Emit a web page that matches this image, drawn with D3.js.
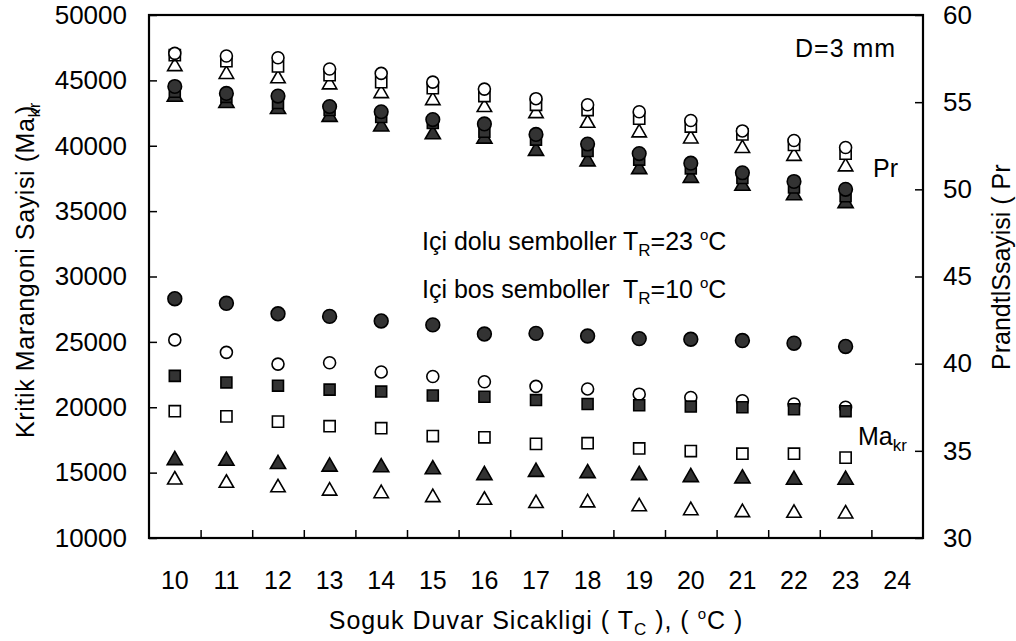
<!DOCTYPE html>
<html>
<head>
<meta charset="utf-8">
<script src="https://cdn.jsdelivr.net/npm/d3@7"></script>
<style>
  html, body { margin: 0; padding: 0; background: #fff; }
  svg { display: block; font-family: "Liberation Sans", Arial, sans-serif; }
  text { white-space: pre; }
</style>
</head>
<body>
<div id="chart"></div>
<script>
// x categories: cold wall temperature T_C
const temps = ['10','11','12','13','14','15','16','17','18','19','20','21','22','23','24'];
const dataTemps = temps.slice(0, 14); // no point at 24

// critical Marangoni number (left axis)
const maFilledCircle   = [28300, 27950, 27150, 26950, 26600, 26300, 25600, 25650, 25450, 25250, 25200, 25100, 24900, 24650];
const maOpenCircle     = [25150, 24200, 23300, 23400, 22700, 22350, 21950, 21600, 21400, 21000, 20750, 20500, 20250, 20000];
const maFilledSquare   = [22400, 21900, 21650, 21350, 21200, 20900, 20800, 20550, 20250, 20150, 20050, 20000, 19850, 19700];
const maOpenSquare     = [19700, 19300, 18900, 18550, 18400, 17800, 17700, 17200, 17250, 16850, 16650, 16450, 16450, 16150];
const maFilledTriangle = [15950, 15900, 15650, 15450, 15400, 15250, 14800, 15050, 14950, 14800, 14650, 14550, 14450, 14450];
const maOpenTriangle   = [14450, 14200, 13850, 13600, 13400, 13100, 12900, 12650, 12700, 12400, 12100, 11950, 11900, 11850];

// Prandtl number (right axis)
const prOpenCircle     = [57.8, 57.65, 57.55, 56.9, 56.65, 56.15, 55.75, 55.2, 54.85, 54.45, 53.95, 53.35, 52.8, 52.4];
const prOpenSquare     = [57.7, 57.35, 57.05, 56.55, 56.15, 55.8, 55.35, 54.85, 54.55, 54.05, 53.6, 53.15, 52.55, 52.05];
const prOpenTriangle   = [57.05, 56.6, 56.35, 56.0, 55.5, 55.1, 54.7, 54.35, 53.8, 53.25, 52.9, 52.35, 51.9, 51.3];
const prFilledCircle   = [55.9, 55.5, 55.35, 54.75, 54.45, 54.0, 53.75, 53.15, 52.6, 52.05, 51.5, 50.95, 50.45, 50.0];
const prFilledSquare   = [55.6, 55.3, 54.95, 54.55, 54.15, 53.8, 53.3, 52.85, 52.2, 51.7, 51.2, 50.65, 50.1, 49.6];
const prFilledTriangle = [55.3, 54.95, 54.6, 54.15, 53.6, 53.15, 52.9, 52.2, 51.6, 51.15, 50.65, 50.2, 49.65, 49.2];

const leftTicks = [10000, 15000, 20000, 25000, 30000, 35000, 40000, 45000, 50000];
const rightTicks = [30, 35, 40, 45, 50, 55, 60];

const W = 1016, H = 641;
const plot = { left: 149, right: 923, top: 15, bottom: 538 };

const svg = d3.select('#chart').append('svg').attr('width', W).attr('height', H);
svg.append('rect').attr('width', W).attr('height', H).attr('fill', '#fff');

const x = d3.scaleBand().domain(temps).range([plot.left, plot.right]).padding(0);
const xEdge = d3.scaleLinear().domain([0, temps.length]).range([plot.left, plot.right]);
const yL = d3.scaleLinear().domain([10000, 50000]).range([plot.bottom, plot.top]);
const yR = d3.scaleLinear().domain([30, 60]).range([plot.bottom, plot.top]);

const FS = 25;

// x labels
const gx = svg.append('g')
  .attr('transform', `translate(0,${plot.bottom})`)
  .call(d3.axisBottom(x).tickSize(0).tickPadding(33));
gx.select('.domain').remove();
gx.selectAll('text').attr('font-size', FS).attr('font-family', null).attr('fill', '#000');

// x tick marks between categories (inside)
const gxt = svg.append('g')
  .attr('transform', `translate(0,${plot.bottom})`)
  .call(d3.axisTop(xEdge).tickValues(d3.range(1, temps.length)).tickSize(8).tickFormat(''));
gxt.select('.domain').remove();
gxt.selectAll('line').attr('stroke', '#000').attr('stroke-width', 1.5);

// left axis
const gl = svg.append('g')
  .attr('transform', `translate(${plot.left},0)`)
  .call(d3.axisLeft(yL).tickValues(leftTicks).tickSize(-8).tickPadding(22).tickFormat(d3.format('d')));
gl.select('.domain').remove();
gl.selectAll('line').attr('stroke', '#000').attr('stroke-width', 1.5);
gl.selectAll('text').attr('font-size', 26).attr('font-family', null).attr('fill', '#000');

// right axis
const gr = svg.append('g')
  .attr('transform', `translate(${plot.right},0)`)
  .call(d3.axisRight(yR).tickValues(rightTicks).tickSize(-8).tickPadding(20));
gr.select('.domain').remove();
gr.selectAll('line').attr('stroke', '#000').attr('stroke-width', 1.5);
gr.selectAll('text').attr('font-size', 26).attr('font-family', null).attr('fill', '#000');

// frame
svg.append('rect')
  .attr('x', plot.left).attr('y', plot.top)
  .attr('width', plot.right - plot.left).attr('height', plot.bottom - plot.top)
  .attr('fill', 'none').attr('stroke', '#000').attr('stroke-width', 2.2);

// markers
const DARK = '#333';
const series = [
  { vals: maOpenCircle, y: yL, type: d3.symbolCircle, size: 113, fill: '#fff' },
  { vals: maOpenSquare, y: yL, type: d3.symbolSquare, size: 125, fill: '#fff' },
  { vals: maOpenTriangle, y: yL, type: d3.symbolTriangle, size: 90, fill: '#fff' },
  { vals: prOpenTriangle, y: yR, type: d3.symbolTriangle, size: 90, fill: '#fff' },
  { vals: prOpenSquare, y: yR, type: d3.symbolSquare, size: 125, fill: '#fff' },
  { vals: prOpenCircle, y: yR, type: d3.symbolCircle, size: 113, fill: '#fff' },
  { vals: maFilledCircle, y: yL, type: d3.symbolCircle, size: 150, fill: DARK },
  { vals: maFilledSquare, y: yL, type: d3.symbolSquare, size: 120, fill: DARK },
  { vals: maFilledTriangle, y: yL, type: d3.symbolTriangle, size: 100, fill: DARK },
  { vals: prFilledTriangle, y: yR, type: d3.symbolTriangle, size: 100, fill: DARK },
  { vals: prFilledSquare, y: yR, type: d3.symbolSquare, size: 120, fill: DARK },
  { vals: prFilledCircle, y: yR, type: d3.symbolCircle, size: 145, fill: DARK }
];

series.forEach(s => {
  const sym = d3.symbol().type(s.type).size(s.size);
  svg.append('g').selectAll('path')
    .data(s.vals)
    .join('path')
      .attr('d', sym)
      .attr('transform', (d, i) => `translate(${x(dataTemps[i]) + x.bandwidth() / 2},${s.y(d)})`)
      .attr('fill', s.fill)
      .attr('stroke', '#000')
      .attr('stroke-width', 1.6);
});

// axis titles
const lt = svg.append('text')
  .attr('transform', 'translate(34,270) rotate(-90)')
  .attr('text-anchor', 'middle')
  .attr('font-size', FS)
  .attr('letter-spacing', 0.6);
lt.append('tspan').text('Kritik Marangoni Sayisi (Ma');
lt.append('tspan').attr('font-size', 17).attr('dy', 6).text('kr');
lt.append('tspan').attr('dy', -6).attr('dx', -12).text(')');

svg.append('text')
  .attr('transform', 'translate(1010,370) rotate(-90)')
  .attr('font-size', FS)
  .text('PrandtlSsayisi ( Pr');

const bt = svg.append('text')
  .attr('x', (plot.left + plot.right) / 2).attr('y', 629)
  .attr('text-anchor', 'middle')
  .attr('font-size', FS)
  .attr('letter-spacing', 1);
bt.append('tspan').text('Soguk Duvar Sicakligi ( T');
bt.append('tspan').attr('font-size', 17).attr('dy', 6).text('C');
bt.append('tspan').attr('dy', -6).text(' ), ( ');
bt.append('tspan').attr('font-size', 15).attr('dy', -10).text('o');
bt.append('tspan').attr('dy', 10).text('C )');

// annotations
svg.append('text').attr('x', 795).attr('y', 57).attr('font-size', FS).attr('letter-spacing', 1).text('D=3 mm');
svg.append('text').attr('x', 873).attr('y', 177).attr('font-size', FS).text('Pr');

const mk = svg.append('text').attr('x', 858).attr('y', 445).attr('font-size', FS);
mk.append('tspan').text('Ma');
mk.append('tspan').attr('font-size', 17).attr('dy', 6).text('kr');

const legendLines = [
  { y: 250, pre: 'Içi dolu semboller T', t: '=23 ' },
  { y: 298, pre: 'Içi bos semboller  T', t: '=10 ' }
];
legendLines.forEach(l => {
  const t = svg.append('text').attr('x', 422).attr('y', l.y).attr('font-size', FS);
  t.append('tspan').text(l.pre);
  t.append('tspan').attr('font-size', 17).attr('dy', 6).text('R');
  t.append('tspan').attr('dy', -6).text(l.t);
  t.append('tspan').attr('font-size', 15).attr('dy', -10).text('o');
  t.append('tspan').attr('dy', 10).text('C');
});
</script>
</body>
</html>
